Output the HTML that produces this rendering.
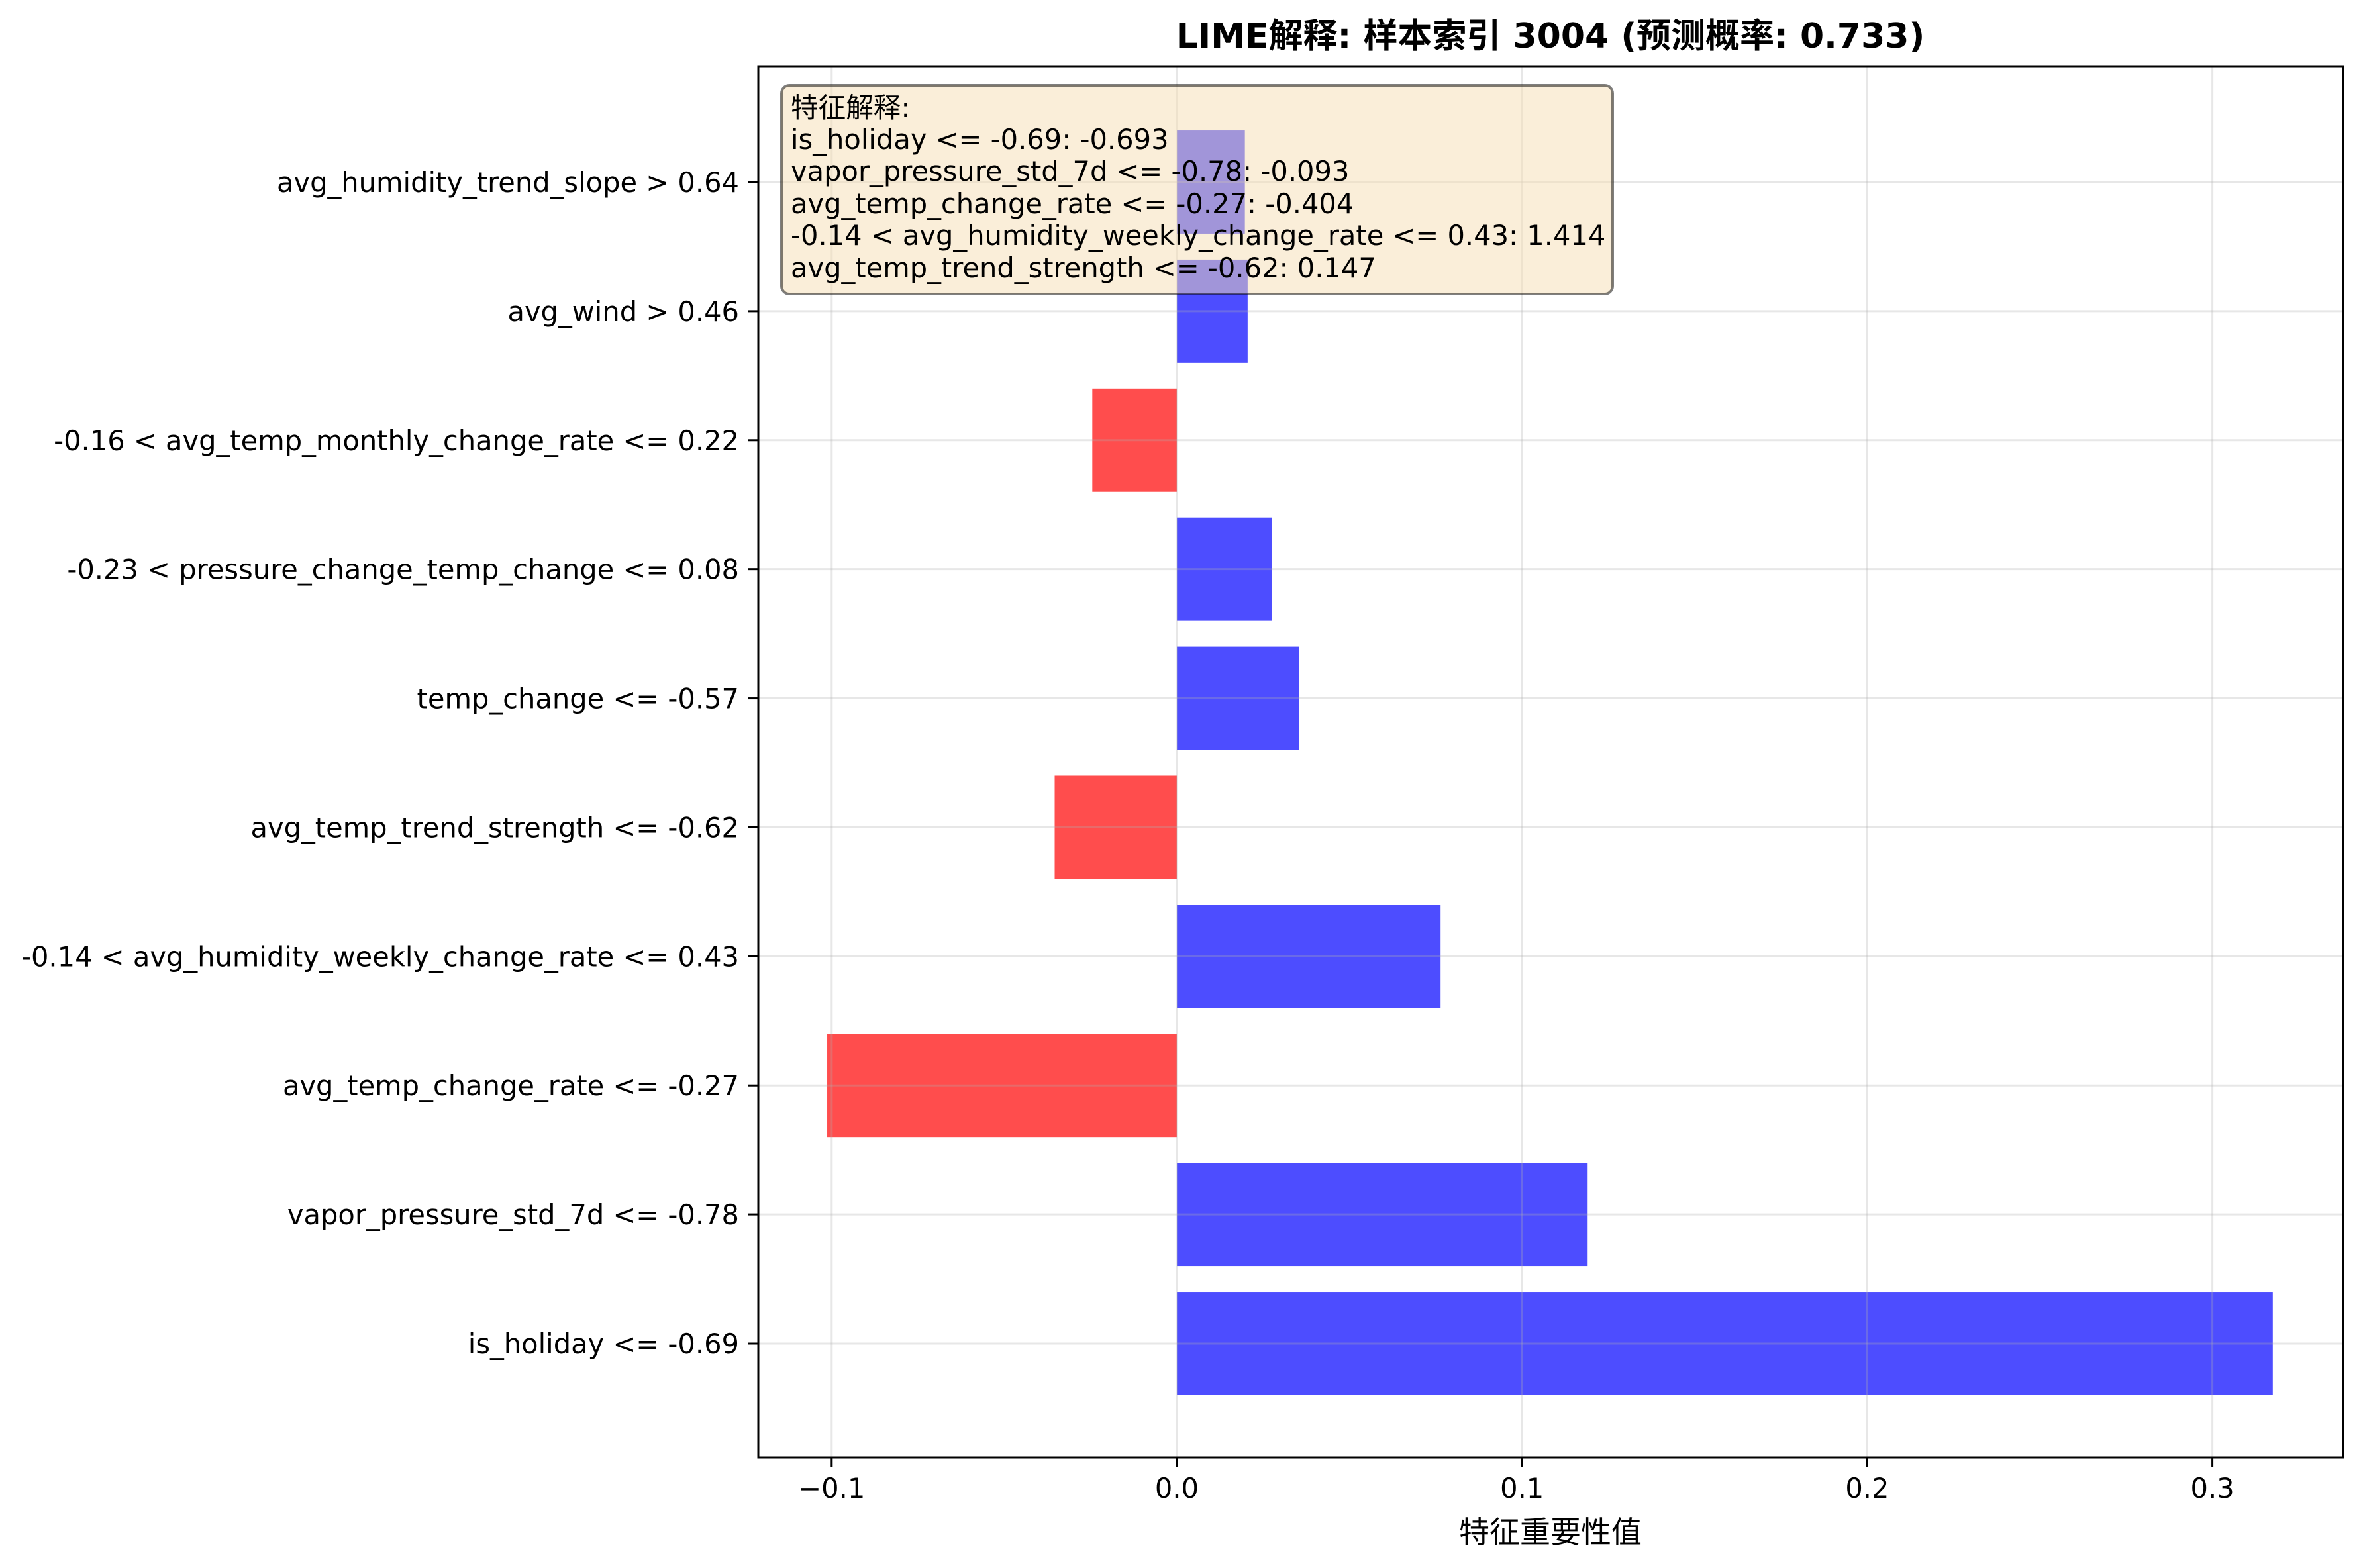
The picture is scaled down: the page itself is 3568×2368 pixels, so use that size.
<!DOCTYPE html>
<html><head><meta charset="utf-8"><style>
html,body{margin:0;padding:0;background:#fff;}
svg{display:block;font-family:"DejaVu Sans","Liberation Sans","Noto Sans CJK SC",sans-serif;}
</style></head><body>
<svg id="chart" width="3568" height="2368" viewBox="0 0 3568 2368">
<rect width="3568" height="2368" fill="#fff"/>
<g id="bars"></g>
<g id="grid"></g>
<g id="axes"></g>
<rect x="1180" y="129" width="1255" height="315" rx="12" fill="rgba(245,222,179,0.5)" stroke="rgba(0,0,0,0.5)" stroke-width="4"/>
<g font-size="41.6" fill="#000">
<text x="1194" y="177">特征解释:</text>
<text x="1194" y="225">is_holiday &lt;= -0.69: -0.693</text>
<text x="1194" y="273">vapor_pressure_std_7d &lt;= -0.78: -0.093</text>
<text x="1194" y="322">avg_temp_change_rate &lt;= -0.27: -0.404</text>
<text x="1194" y="370">-0.14 &lt; avg_humidity_weekly_change_rate &lt;= 0.43: 1.414</text>
<text x="1194" y="419">avg_temp_trend_strength &lt;= -0.62: 0.147</text>
</g>
<text x="2341" y="72" font-size="52" font-weight="bold" text-anchor="middle">LIME解释: 样本索引 3004 (预测概率: 0.733)</text>
<text x="2341" y="2330" font-size="46" text-anchor="middle">特征重要性值</text>
</svg>
<script>
const categories = ["is_holiday <= -0.69","vapor_pressure_std_7d <= -0.78","avg_temp_change_rate <= -0.27","-0.14 < avg_humidity_weekly_change_rate <= 0.43","avg_temp_trend_strength <= -0.62","temp_change <= -0.57","-0.23 < pressure_change_temp_change <= 0.08","-0.16 < avg_temp_monthly_change_rate <= 0.22","avg_wind > 0.46","avg_humidity_trend_slope > 0.64"];
const values = [0.3175, 0.119, -0.1013, 0.0764, -0.0354, 0.0354, 0.0275, -0.0245, 0.0205, 0.0197];
const xTicks = [-0.1, 0.0, 0.1, 0.2, 0.3];
const xTickLabels = ["−0.1","0.0","0.1","0.2","0.3"];

const NS = "http://www.w3.org/2000/svg";
const L = 1145, R = 3538, T = 100, B = 2201;
const x0 = 1777, pxPer = 5212;
function xs(v){ return x0 + v * pxPer; }
const bottomY = 2029, step = (2029 - 275) / 9;
function ys(i){ return bottomY - i * step; }
function mk(tag, attrs, parent){ const e = document.createElementNS(NS, tag); for (const k in attrs) e.setAttribute(k, attrs[k]); parent.appendChild(e); return e; }

const gb = document.getElementById('bars'), gg = document.getElementById('grid'), ga = document.getElementById('axes');
const bh = step * 0.8;
values.forEach((v, i) => {
  const r = mk('rect', {x: Math.min(xs(0), xs(v)), y: ys(i) - bh/2, width: Math.abs(xs(v) - xs(0)), height: bh, fill: v >= 0 ? '#4d4dff' : '#ff4d4d'}, gb);
  
  
});
xTicks.forEach((t, i) => {
  const X = xs(t);
  const g = mk('line', {x1: X, x2: X, y1: T, y2: B, stroke: 'rgba(176,176,176,0.3)', 'stroke-width': 3}, gg);
  
  
  mk('line', {x1: X, x2: X, y1: B, y2: B + 15, stroke: '#000', 'stroke-width': 3}, ga);
  const tx = mk('text', {x: X, y: 2262, 'font-size': 41.6, 'text-anchor': 'middle'}, ga);
  tx.textContent = xTickLabels[i];
  
  
});
categories.forEach((c, i) => {
  const Y = ys(i);
  const g = mk('line', {x1: L, x2: R, y1: Y, y2: Y, stroke: 'rgba(176,176,176,0.3)', 'stroke-width': 3}, gg);
  
  
  mk('line', {x1: L - 15, x2: L, y1: Y, y2: Y, stroke: '#000', 'stroke-width': 3}, ga);
  const tx = mk('text', {x: L - 29, y: Y + 15, 'font-size': 41.6, 'text-anchor': 'end'}, ga);
  tx.textContent = c;
  
  
});
const frame = mk('rect', {x: L, y: T, width: R - L, height: B - T, fill: 'none', stroke: '#000', 'stroke-width': 3}, ga);


</script>
</body></html>
